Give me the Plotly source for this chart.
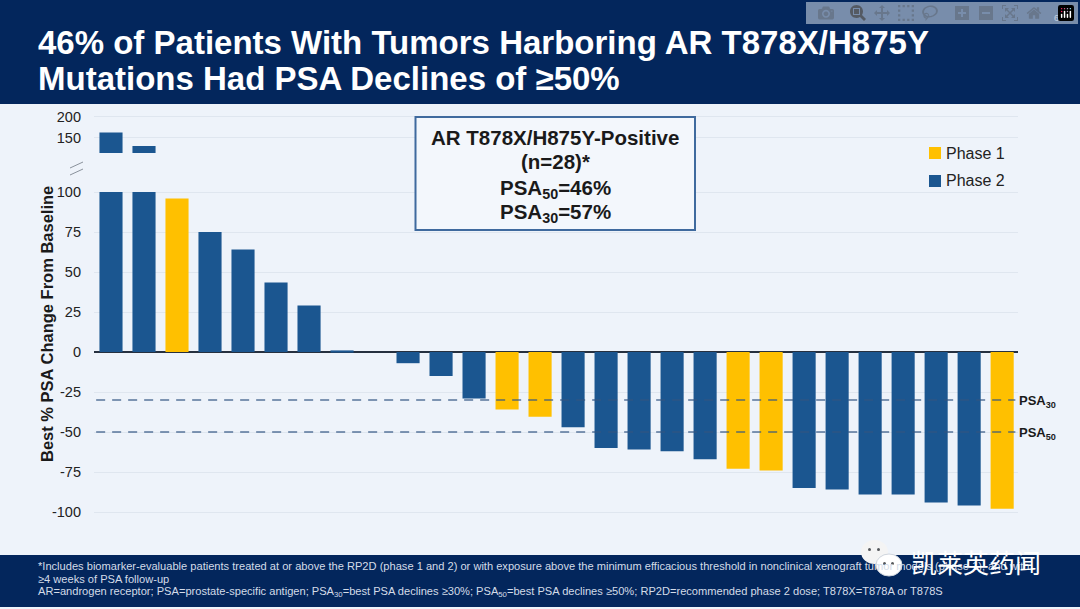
import plotly.graph_objects as go

W, H = 1080, 609

# best % PSA change per patient, the top two run off the lower panel
patients = list(range(1, 29))
phase = [2, 2, 1, 2, 2, 2, 2, 2, 2, 2, 2, 2, 1, 1, 2, 2, 2, 2, 2, 1, 1, 2, 2, 2, 2, 2, 2, 1]
psa_change = [100, 100, 96, 75, 64, 43.5, 29, 1, 0, -7, -15, -29, -36, -40.5, -47, -60,
              -61, -62, -67, -73, -74, -85, -86, -89, -89, -94, -96, -98]
upper_patients = [1, 2]
upper_change = [163, 131]

main_ticks = [100, 75, 50, 25, 0, -25, -50, -75, -100]
main_labels = ["100", "75", "50", "25", "0", "-25", "-50", "-75", "-100"]
upper_ticks = [150, 200]
upper_labels = ["150", "200"]
psa_thresholds = [-30, -50]

NAVY = "#03265c"
BLUE = "#1b5690"
GOLD = "#ffc000"
BG = "#eef3fa"
GRID = "#dfe6ef"
FONT = "Liberation Sans"


def px(x):
    return x / W


def py(y):
    return 1 - y / H


def values_for(p):
    return [v if f == p else None for v, f in zip(psa_change, phase)]


fig = go.Figure()
for p, color in [(1, GOLD), (2, BLUE)]:
    fig.add_trace(go.Bar(x=patients, y=values_for(p), name=f"Phase {p}", marker_color=color,
                         marker_line_width=0, width=0.7, showlegend=False))
fig.add_trace(go.Bar(x=upper_patients, y=upper_change, yaxis="y2", marker_color=BLUE,
                     marker_line_width=0, width=0.7, showlegend=False))

for level in psa_thresholds:
    fig.add_trace(go.Scatter(x=[patients[0] - 0.45, patients[-1] + 0.4], y=[level, level], mode="lines",
                             line=dict(color="rgba(50,85,130,0.8)", width=1.6, dash="9px,7px"),
                             showlegend=False, hoverinfo="skip"))


def box(x0, y0, x1, y1, **kw):
    return dict(type="rect", xref="paper", yref="paper", x0=px(x0), x1=px(x1), y0=py(y1), y1=py(y0), **kw)


def dot(x0, y0, x1, y1, **kw):
    return dict(type="circle", xref="paper", yref="paper", x0=px(x0), x1=px(x1), y0=py(y1), y1=py(y0), **kw)


shapes = [
    box(0, 0, 1080, 104, fillcolor=NAVY, line_width=0, layer="below"),
    box(0, 555, 1080, 607, fillcolor=NAVY, line_width=0, layer="below"),
    box(415.5, 117, 695, 230, fillcolor="#f3f7fc", line=dict(color="#3f6a9e", width=2)),
    # legend swatches
    box(929, 147, 941, 159, fillcolor=GOLD, line_width=0),
    box(929, 175, 941, 187, fillcolor=BLUE, line_width=0),
    # axis break marks
    dict(type="line", xref="paper", yref="paper", x0=px(70), x1=px(83), y0=py(168), y1=py(162),
         line=dict(color="#8a929c", width=1)),
    dict(type="line", xref="paper", yref="paper", x0=px(70), x1=px(83), y0=py(175), y1=py(169),
         line=dict(color="#8a929c", width=1)),
    # wechat mark of the watermark
    dot(861, 540, 888, 564, fillcolor="#f4f4f4", line_width=0),
    dot(876, 554, 902, 576, fillcolor="#ffffff", line=dict(color="#cfd5dd", width=1)),
    dot(868, 548, 871, 551, fillcolor="#55585c", line_width=0),
    dot(877, 548, 880, 551, fillcolor="#55585c", line_width=0),
    dot(883, 562, 886, 565, fillcolor="#55585c", line_width=0),
    dot(891, 562, 894, 565, fillcolor="#55585c", line_width=0),
]


def label(x, y, text, size, color="#1a1a1a", bold=False, anchor="left", angle=0, font=FONT):
    if bold:
        text = f"<b>{text}</b>"
    return dict(xref="paper", yref="paper", x=px(x), y=py(y), text=text, showarrow=False,
                xanchor=anchor, yanchor="middle", textangle=angle,
                font=dict(family=font, size=size, color=color))


foot = "#d3dce8"
annotations = [
    label(36, 42, "46% of Patients With Tumors Harboring AR T878X/H875Y", 33, "#ffffff", True),
    label(36, 78, "Mutations Had PSA Declines of ≥50%", 33, "#ffffff", True),
    label(1056, 18, "6", 9, "#9fb0c8", anchor="center"),
    label(555, 137, "AR T878X/H875Y-Positive", 20.5, bold=True, anchor="center"),
    label(555, 161, "(n=28)*", 20.5, bold=True, anchor="center"),
    label(555, 189, "PSA<sub>50</sub>=46%", 20.5, bold=True, anchor="center"),
    label(555, 213, "PSA<sub>30</sub>=57%", 20.5, bold=True, anchor="center"),
    label(47, 324, "Best % PSA Change From Baseline", 16.5, bold=True, anchor="center", angle=-90),
    label(1017, 401, "PSA<sub>30</sub>", 13, bold=True),
    label(1017, 433, "PSA<sub>50</sub>", 13, bold=True),
    label(944, 153, "Phase 1", 16, "#222222"),
    label(944, 181, "Phase 2", 16, "#222222"),
    label(36, 566, "*Includes biomarker-evaluable patients treated at or above the RP2D (phase 1 and 2) or with exposure "
          "above the minimum efficacious threshold in nonclinical xenograft tumor models (phase 1), and with", 11.1, foot),
    label(36, 579, "≥4 weeks of PSA follow-up", 11.1, foot),
    label(36, 592, "AR=androgen receptor; PSA=prostate-specific antigen; PSA<sub>30</sub>=best PSA declines ≥30%; "
          "PSA<sub>50</sub>=best PSA declines ≥50%; RP2D=recommended phase 2 dose; T878X=T878A or T878S", 11.1, foot),
    label(909, 561, "凯莱英药闻", 26, "#ffffff", font="Noto Sans CJK SC"),
]

fig.update_layout(
    width=W, height=H, margin=dict(l=0, r=0, t=0, b=0, autoexpand=False),
    paper_bgcolor=BG, plot_bgcolor="rgba(0,0,0,0)",
    barmode="overlay", bargap=0.3, font=dict(family=FONT, color="#222222"),
    shapes=shapes, annotations=annotations, showlegend=False,
    xaxis=dict(domain=[px(94), px(1018)], range=[0.485, 28.48], visible=False),
    yaxis=dict(domain=[py(514.4), py(185.6)], range=[-101.5, 104], tickvals=main_ticks, ticktext=main_labels,
               tickfont=dict(size=14.5, color="#222222"), showgrid=True, gridcolor=GRID, gridwidth=1,
               zeroline=True, zerolinecolor="#26303f", zerolinewidth=1.5, ticks="", showline=False,
               ticklabelstandoff=12),
    yaxis2=dict(domain=[py(153), py(108)], range=[114.3, 221], tickvals=upper_ticks, ticktext=upper_labels,
                tickfont=dict(size=14.5, color="#222222"), showgrid=True, gridcolor=GRID, gridwidth=1,
                zeroline=False, ticks="", showline=False, anchor="x", ticklabelstandoff=12),
)

# the browser's default body margin would push the 1080x609 figure off the window
fig.write_html("out.html", post_script="document.body.style.margin='0';document.documentElement.style.overflow='hidden';")
